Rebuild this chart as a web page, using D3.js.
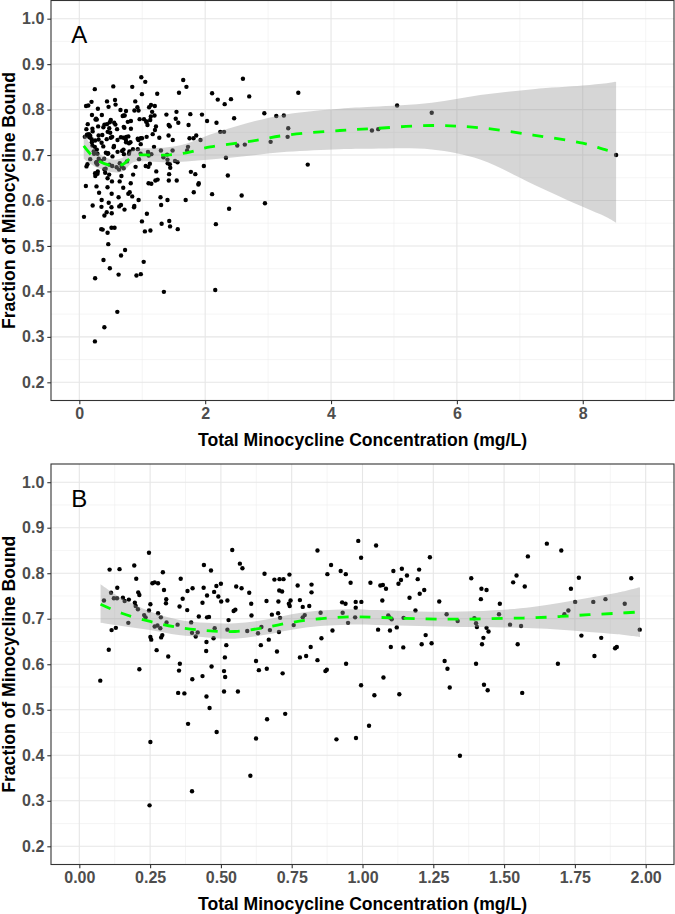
<!DOCTYPE html>
<html><head><meta charset="utf-8">
<script src="https://cdn.jsdelivr.net/npm/d3@7"></script>
<style>body{margin:0;background:#fff} svg{display:block}</style>
</head><body><svg id="c" width="675" height="914"></svg>
<script>
// ---- data ----
const concentration = [
0.246,0.107,0.142,0.194,0.295,0.440,0.465,0.201,0.358,0.258,0.266,0.278,0.134,0.112,0.208,0.212,0.299,0.382,0.400,0.439,0.484,0.500,0.476,0.451,0.491,0.501,0.087,0.122,0.133,0.154,0.160,0.175,0.196,0.199,0.251,0.307,0.306,0.365,0.354,0.381,0.435,0.207,0.229,0.234,0.246,0.278,0.288,0.173,0.308,0.276,0.266,0.286,0.347,0.395,0.422,0.451,0.458,0.478,0.129,0.114,0.398,0.411,0.418,0.474,0.449,0.251,0.254,0.293,0.289,0.104,0.273,0.448,0.314,0.355,0.352,0.212,0.467,0.435,0.399,0.074,0.349,0.371,0.449,0.460,0.384,0.485,0.251,0.398,0.248,
0.540,0.841,0.985,0.567,0.576,0.654,0.689,0.707,0.721,0.742,0.771,0.820,0.820,0.889,0.876,0.923,0.941,0.958,0.995,1.028,0.554,0.573,0.600,0.706,0.716,0.523,0.607,0.661,0.703,0.740,0.746,0.743,0.779,0.789,0.812,0.928,0.940,0.976,0.976,0.996,0.545,0.551,0.527,0.608,0.680,0.702,0.709,0.789,0.796,0.852,0.930,0.974,0.949,0.523,0.593,0.643,0.631,0.673,0.705,0.757,0.894,0.519,0.669,0.641,0.855,0.817,0.514,0.698,0.779,0.801,0.841,0.624,0.511,0.515,0.634,0.662,0.718,0.869,0.874,0.942,0.511,0.560,0.995,0.727,0.663,0.624,0.908,0.977,1.023,0.604,
1.048,1.238,1.109,1.139,1.157,1.200,1.063,1.072,1.083,1.127,1.136,1.195,1.218,1.202,1.384,1.420,1.438,1.418,1.485,1.532,1.544,1.070,1.166,1.271,1.187,1.297,1.336,1.091,1.095,1.103,1.145,1.395,1.401,1.404,1.482,1.521,1.560,1.055,1.097,1.121,1.438,1.445,1.223,1.209,1.244,1.427,1.422,1.548,1.100,1.144,1.290,1.300,1.401,1.074,1.042,1.130,1.308,1.429,1.442,1.564,1.344,
1.651,1.702,1.584,1.573,1.764,1.736,1.949,1.751,1.815,1.858,1.926,1.713,1.727,1.979,1.773,1.843,1.892,1.898,1.819,1.690,
2.03,2.11,2.20,2.31,2.41,2.60,2.70,2.46,2.18,2.24,2.30,2.33,2.36,2.51,2.63,2.58,2.38,2.11,2.17,2.94,3.13,3.25,3.04,3.32,3.31,3.48,3.63,2.95,2.16,4.65,4.75,5.05,5.60,8.53];
const fractionBound = [
0.845,0.808,0.809,0.817,0.802,0.818,0.806,0.788,0.788,0.778,0.780,0.778,0.768,0.757,0.758,0.752,0.763,0.761,0.767,0.768,0.772,0.777,0.759,0.751,0.749,0.738,0.740,0.745,0.745,0.746,0.739,0.742,0.735,0.728,0.732,0.743,0.734,0.744,0.727,0.719,0.735,0.721,0.708,0.703,0.718,0.712,0.703,0.691,0.692,0.685,0.683,0.679,0.687,0.692,0.705,0.703,0.704,0.679,0.680,0.675,0.669,0.661,0.670,0.657,0.649,0.660,0.654,0.664,0.659,0.632,0.631,0.629,0.617,0.601,0.586,0.589,0.595,0.574,0.567,0.564,0.537,0.536,0.529,0.504,0.469,0.451,0.429,0.321,0.290,
0.851,0.850,0.871,0.821,0.811,0.799,0.786,0.787,0.787,0.797,0.773,0.775,0.758,0.818,0.798,0.805,0.798,0.779,0.834,0.779,0.771,0.767,0.757,0.762,0.760,0.740,0.733,0.739,0.738,0.733,0.740,0.728,0.741,0.726,0.728,0.736,0.733,0.737,0.724,0.737,0.717,0.720,0.697,0.707,0.709,0.712,0.702,0.703,0.708,0.713,0.713,0.703,0.691,0.676,0.673,0.682,0.668,0.675,0.671,0.686,0.674,0.642,0.654,0.642,0.657,0.638,0.615,0.628,0.615,0.618,0.609,0.607,0.585,0.572,0.587,0.590,0.580,0.585,0.588,0.601,0.540,0.540,0.554,0.491,0.479,0.437,0.435,0.438,0.465,0.355,
0.861,0.835,0.805,0.810,0.795,0.808,0.773,0.774,0.766,0.777,0.785,0.787,0.763,0.755,0.789,0.766,0.763,0.743,0.733,0.780,0.795,0.740,0.746,0.738,0.718,0.710,0.695,0.707,0.703,0.699,0.702,0.701,0.690,0.682,0.710,0.687,0.684,0.676,0.674,0.681,0.680,0.672,0.664,0.644,0.646,0.658,0.644,0.644,0.638,0.637,0.607,0.590,0.601,0.571,0.532,0.534,0.549,0.555,0.543,0.537,0.399,
0.865,0.850,0.837,0.771,0.790,0.766,0.789,0.737,0.737,0.743,0.733,0.710,0.718,0.676,0.663,0.658,0.635,0.638,0.618,0.601,
0.775,0.836,0.822,0.812,0.823,0.868,0.829,0.781,0.771,0.751,0.751,0.694,0.655,0.721,0.723,0.611,0.582,0.614,0.548,0.792,0.786,0.787,0.729,0.759,0.740,0.837,0.679,0.594,0.403,0.754,0.757,0.809,0.793,0.700];

// smoother for panel A (all data)
const smoothA_x  = [0.07,0.27,0.54,0.70,0.86,1.13,1.40,1.70,2.08,2.66,3.30,4.14,4.65,5.60,6.37,7.21,8.00,8.38,8.53];
const smoothA_fit= [0.720,0.690,0.676,0.680,0.698,0.700,0.700,0.705,0.718,0.729,0.744,0.754,0.758,0.765,0.760,0.744,0.726,0.711,0.707];
const smoothA_hi = [0.748,0.708,0.690,0.695,0.712,0.715,0.717,0.725,0.745,0.770,0.790,0.802,0.806,0.815,0.832,0.845,0.853,0.858,0.861];
const smoothA_lo = [0.692,0.673,0.662,0.665,0.684,0.686,0.684,0.686,0.690,0.698,0.707,0.713,0.714,0.712,0.690,0.636,0.586,0.563,0.551];
// smoother for panel B (x <= 2)
const smoothB_x  = [0.075,0.15,0.25,0.35,0.45,0.55,0.65,0.75,0.85,0.95,1.05,1.20,1.35,1.50,1.60,1.70,1.80,1.90,1.98];
const smoothB_fit= [0.732,0.712,0.694,0.681,0.674,0.672,0.680,0.692,0.700,0.704,0.703,0.700,0.699,0.701,0.702,0.705,0.709,0.712,0.715];
const smoothB_hi = [0.776,0.745,0.716,0.698,0.691,0.690,0.697,0.710,0.718,0.721,0.719,0.716,0.716,0.720,0.726,0.735,0.746,0.757,0.769];
const smoothB_lo = [0.691,0.684,0.675,0.664,0.659,0.656,0.664,0.676,0.684,0.687,0.686,0.684,0.682,0.681,0.679,0.676,0.671,0.666,0.660];

const yTicks = [0.2,0.3,0.4,0.5,0.6,0.7,0.8,0.9,1.0];
const yMinor = [0.25,0.35,0.45,0.55,0.65,0.75,0.85,0.95];
const xTicksA = [0,2,4,6,8];
const xMinorA = [1,3,5,7,9];
const xTicksB = [0,0.25,0.5,0.75,1,1.25,1.5,1.75,2];
const xMinorB = [0.125,0.375,0.625,0.875,1.125,1.375,1.625,1.875];
const panelLabels = ["A","B"];
const xTitle = "Total Minocycline Concentration (mg/L)";
const yTitle = "Fraction of Minocycline Bound";

// ---- drawing ----
const svg = d3.select("#c");
const FONT = "'Liberation Sans', Arial, Helvetica, sans-serif";
const L = 51, R = 674;
const points = concentration.map((x,i)=>({x, y: fractionBound[i]}));

function panel(cfg){
  const g = svg.append("g");
  const x = d3.scaleLinear().domain(cfg.xDomain).range([L,R]);
  const y = d3.scaleLinear().domain([0.16,1.04]).range([cfg.bottom,cfg.top]);
  // grid
  g.selectAll(".ymin").data(yMinor).join("line")
    .attr("x1",L).attr("x2",R).attr("y1",d=>y(d)).attr("y2",d=>y(d))
    .attr("stroke","#EFEFEF").attr("stroke-width",0.6);
  g.selectAll(".xmin").data(cfg.xMinor).join("line")
    .attr("y1",cfg.top).attr("y2",cfg.bottom).attr("x1",d=>x(d)).attr("x2",d=>x(d))
    .attr("stroke","#EFEFEF").attr("stroke-width",0.6);
  g.selectAll(".ymaj").data(yTicks).join("line")
    .attr("x1",L).attr("x2",R).attr("y1",d=>y(d)).attr("y2",d=>y(d))
    .attr("stroke","#E6E6E6").attr("stroke-width",1.1);
  g.selectAll(".xmaj").data(cfg.xTicks).join("line")
    .attr("y1",cfg.top).attr("y2",cfg.bottom).attr("x1",d=>x(d)).attr("x2",d=>x(d))
    .attr("stroke","#E6E6E6").attr("stroke-width",1.1);
  // points
  const pts = points.filter(d=>d.x>=cfg.xLim[0] && d.x<=cfg.xLim[1]);
  g.selectAll(".pt").data(pts).join("circle")
    .attr("cx",d=>x(d.x)).attr("cy",d=>y(d.y)).attr("r",2.2).attr("fill","#000");
  // band
  const sm = cfg.sx.map((v,i)=>({x:v, f:cfg.sf[i], lo:cfg.slo[i], hi:cfg.shi[i]}));
  g.append("path").datum(sm)
    .attr("d", d3.area().x(d=>x(d.x)).y0(d=>y(d.lo)).y1(d=>y(d.hi)).curve(d3.curveCatmullRom))
    .attr("fill","#999999").attr("fill-opacity",0.4);
  g.append("path").datum(sm)
    .attr("d", d3.line().x(d=>x(d.x)).y(d=>y(d.f)).curve(d3.curveCatmullRom))
    .attr("fill","none").attr("stroke","#00FF00").attr("stroke-width",2.8)
    .attr("stroke-dasharray","11,11");
  // border
  g.append("rect").attr("x",L).attr("y",cfg.top).attr("width",R-L).attr("height",cfg.bottom-cfg.top)
    .attr("fill","none").attr("stroke","#333333").attr("stroke-width",1.1);
  // axes
  const ax = g.append("g").attr("transform",`translate(0,${cfg.bottom})`)
    .call(d3.axisBottom(x).tickValues(cfg.xTicks).tickFormat(cfg.xFmt).tickSize(3.7).tickPadding(3.6));
  const ay = g.append("g").attr("transform",`translate(${L},0)`)
    .call(d3.axisLeft(y).tickValues(yTicks).tickFormat(d3.format(".1f")).tickSize(3.7).tickPadding(3));
  [ax,ay].forEach(a=>{
    a.select(".domain").remove();
    a.selectAll(".tick line").attr("stroke","#333333").attr("stroke-width",1.1);
    a.selectAll(".tick text").attr("fill","#4D4D4D").attr("font-family",FONT)
      .attr("font-weight","bold").attr("font-size",16);
  });
  // titles
  g.append("text").attr("x",(L+R)/2).attr("y",cfg.bottom+45.5).attr("text-anchor","middle")
    .attr("font-family",FONT).attr("font-weight","bold").attr("font-size",17.6).attr("fill","#000")
    .text(xTitle);
  g.append("text").attr("transform",`translate(15,${(cfg.top+cfg.bottom)/2}) rotate(-90)`)
    .attr("text-anchor","middle")
    .attr("font-family",FONT).attr("font-weight","bold").attr("font-size",17.6).attr("fill","#000")
    .text(yTitle);
  // panel label
  g.append("text").attr("x",x(0)).attr("y",y(0.965)).attr("dy","0.36em").attr("text-anchor","middle")
    .attr("font-family",FONT).attr("font-size",24).attr("fill","#000").text(cfg.label);
}

panel({top:0.5, bottom:400.5, xDomain:[-0.45,9.45], xLim:[-Infinity,Infinity], xTicks:xTicksA, xMinor:xMinorA,
  xFmt:d3.format("d"), sx:smoothA_x, sf:smoothA_fit, slo:smoothA_lo, shi:smoothA_hi, label:panelLabels[0]});
panel({top:464, bottom:864.5, xDomain:[-0.1,2.1], xLim:[0,2], xTicks:xTicksB, xMinor:xMinorB,
  xFmt:d3.format(".2f"), sx:smoothB_x, sf:smoothB_fit, slo:smoothB_lo, shi:smoothB_hi, label:panelLabels[1]});
</script>
</body></html>
